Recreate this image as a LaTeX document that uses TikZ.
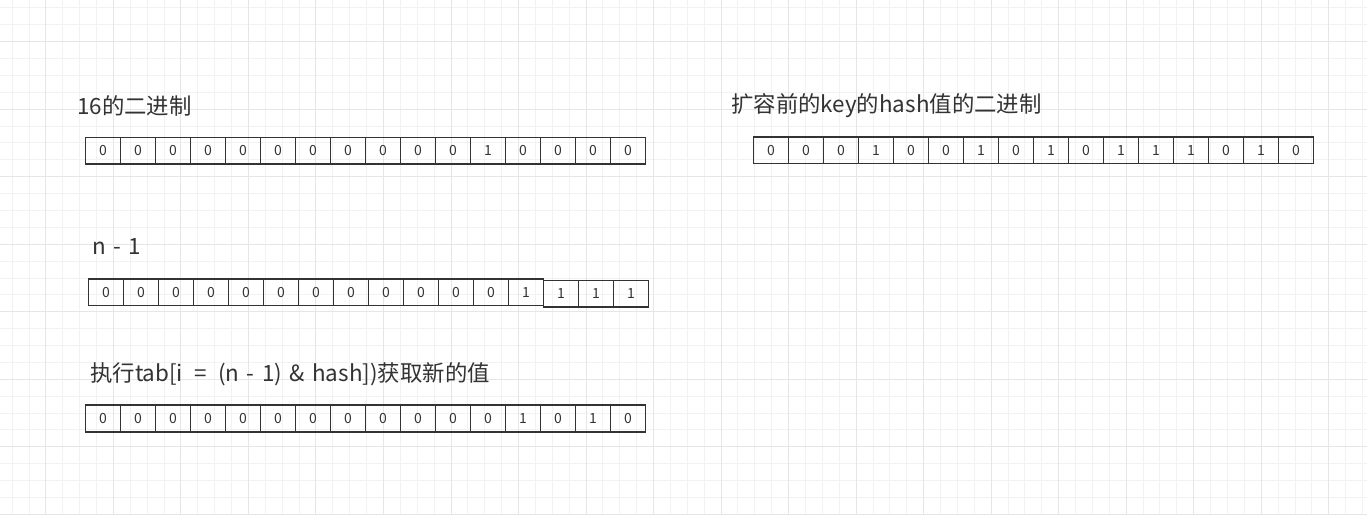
\documentclass[tikz,border=0pt]{standalone}
\usepackage{fontspec}
\setmainfont{Noto Sans CJK SC}[WordSpace=1.5]
\usepackage{tikz}
\usepackage{xcolor}
\usetikzlibrary{positioning,calc}
\definecolor{ink}{RGB}{51,51,51}
\definecolor{gridminor}{RGB}{242,242,242}
\definecolor{gridmajor}{RGB}{230,230,230}
\tikzset{
  cell/.style={draw=ink, line width=1.6pt, minimum width=35pt, minimum height=26.5pt,
    inner sep=0pt, text=ink, font=\fontsize{14}{14}\selectfont},
  title/.style={anchor=west, inner sep=0pt, text=ink, font=\fontsize{22.4}{22.4}\selectfont}
}
\begin{document}
\begin{tikzpicture}[x=1pt, y=-1pt]
    \useasboundingbox (0,0) rectangle (1367,514);
    \fill[white] (0,0) rectangle (1367,514);
    \foreach \k in {-6,...,74}
      \draw[gridminor, line width=1pt] (113.4+16.88*\k,0) -- (113.4+16.88*\k,514);
    \foreach \k in {-2,...,28}
      \draw[gridminor, line width=1pt] (0,41.7+16.88*\k) -- (1367,41.7+16.88*\k);
    \foreach \k in {-1,...,18}
      \draw[gridmajor, line width=1pt] (113.4+67.52*\k,0) -- (113.4+67.52*\k,514);
    \foreach \k in {0,...,7}
      \draw[gridmajor, line width=1pt] (0,41.7+67.52*\k) -- (1367,41.7+67.52*\k);

    \node[title] (sixteen) at (77,106) {16的二进制};
    \foreach \v [count=\i] in {0,0,0,0,0,0,0,0,0,0,0,1,0,0,0,0}
      \node[cell] (a\i) at (103+35*\i-35,150.8) {\v};

    \node[title] (nminus) at (92,247) {n - 1};
    \foreach \v/\dy [count=\i] in {0/0,0/0,0/0,0/0,0/0,0/0,0/0,0/0,0/0,0/0,0/0,0/0,1/0,1/1.5,1/1.5,1/1.5}
      \node[cell] (b\i) at (106+35*\i-35,292.3+\dy) {\v};

    \node[title] (andop) at (90,374) {执行tab[i \,=\, (n - 1) \& hash])获取新的值};
    \foreach \v [count=\i] in {0,0,0,0,0,0,0,0,0,0,0,0,1,0,1,0}
      \node[cell] (c\i) at (103+35*\i-35,418.5) {\v};

    \node[title] (oldhash) at (731,106) {扩容前的key的hash值的二进制};
    \foreach \v [count=\i] in {0,0,0,1,0,0,1,0,1,0,1,1,1,0,1,0}
      \node[cell] (d\i) at (771+35*\i-35,150.3) {\v};
  \end{tikzpicture}
\end{document}
